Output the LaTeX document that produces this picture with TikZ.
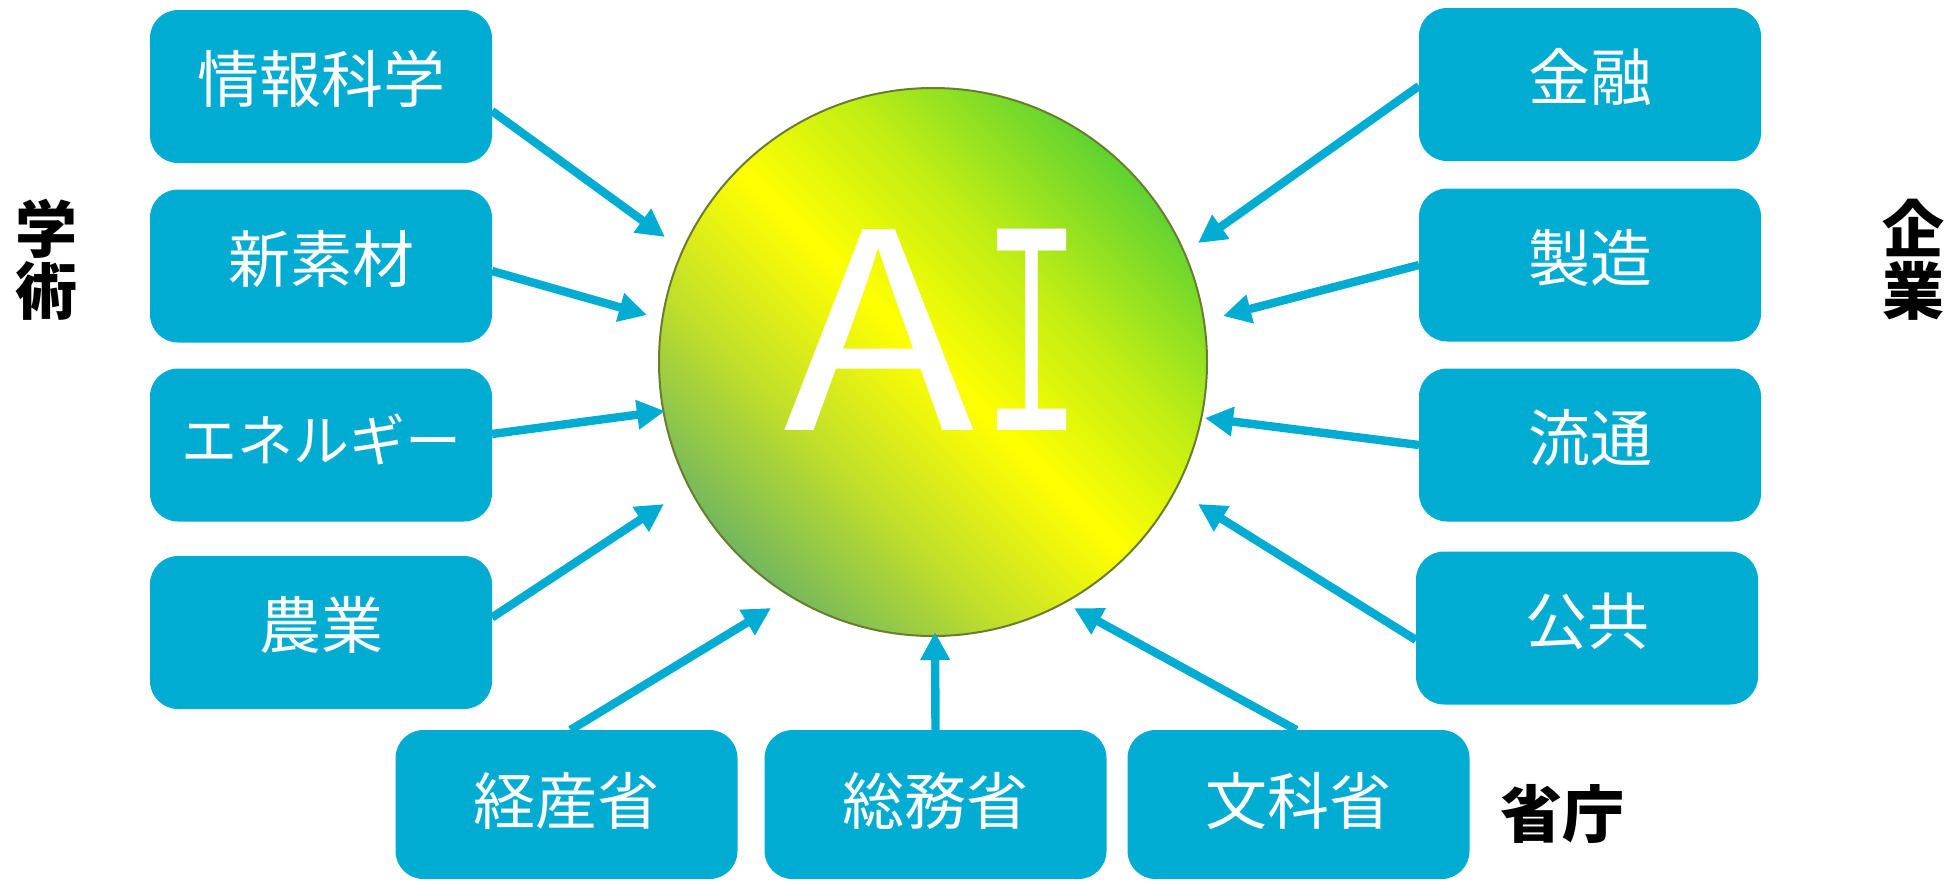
\documentclass[tikz,border=0pt]{standalone}
\usepackage{fontspec}
\setmainfont{Noto Sans CJK JP}
\usetikzlibrary{arrows.meta,calc}
\definecolor{boxblue}{RGB}{0,172,210}
\definecolor{aigreen}{RGB}{95,210,50}
\definecolor{aiolive}{RGB}{115,183,95}
\definecolor{aiyellow}{RGB}{255,255,0}
\definecolor{airim}{RGB}{105,125,45}
\colorlet{aimixa}{aiyellow!55!aiolive}
\colorlet{aimixb}{aiyellow!60!aigreen}
\pgfdeclarehorizontalshading{aishade}{100bp}{color(0bp)=(aiolive); color(25bp)=(aiolive); color(37bp)=(aimixa); color(50bp)=(aiyellow); color(62bp)=(aimixb); color(75bp)=(aigreen); color(100bp)=(aigreen)}
\begin{document}
\begin{tikzpicture}[x=0.5pt,y=-0.5pt,
  box/.style={fill=boxblue, rounded corners=14pt, minimum width=171pt, minimum height=76.5pt,
    inner sep=0pt, outer sep=0pt, text=white, font=\fontsize{31}{31}\selectfont,
    text height=27pt, text depth=11pt},
  bbox/.style={box, minimum height=74.5pt, text depth=7pt},
  arr/.style={draw=boxblue, line width=4.2pt, -{Triangle[length=14pt,width=14pt]}},
  side/.style={font=\fontsize{31}{31}\bfseries\selectfont, align=center, inner sep=0pt}]
\useasboundingbox (0,0) rectangle (1960,880);

% central circle
\node[circle, minimum size=274pt, inner sep=0pt, draw=airim, line width=1pt,
  shading=aishade, shading angle=45, text=white,
  font=\fontsize{137}{137}\selectfont, text height=100pt, text depth=32pt] (ai) at (933,362)
  {\kern9pt\scalebox{1.15}[1]{A}\kern-5.5pt\scalebox{0.5}[1]{Ｉ}};

% boxes
\node[box] (l1) at (321,86.5) {情報科学};
\node[box] (l2) at (321,266) {新素材};
\node[box, font=\fontsize{28}{28}\selectfont] (l3) at (321,445) {エネルギー};
\node[box] (l4) at (321,632.5) {農業};
\node[box] (r1) at (1590,84.5) {金融};
\node[box] (r2) at (1590,265) {製造};
\node[box] (r3) at (1590,445) {流通};
\node[box] (r4) at (1587,628) {公共};
\node[bbox] (g1) at (566.5,804.5) {経産省};
\node[bbox] (g2) at (935.5,804.5) {総務省};
\node[bbox] (g3) at (1298.5,804.5) {文科省};

% side labels
\node[side] (gak) at (47,260) {学\\術};
\node[side] (kig) at (1913,260) {企\\業};
\node[side] (sho) at (1562,814) {省庁};

% arrow tips
\coordinate (t1) at (665,237);
\coordinate (t2) at (647,315);
\coordinate (t3) at (665,411);
\coordinate (t4) at (664,504);
\coordinate (u1) at (1198,243);
\coordinate (u2) at (1223,316);
\coordinate (u3) at (1205,418);
\coordinate (u4) at (1198,504);
\coordinate (v1) at (771,608);
\coordinate (v2) at (935,632);
\coordinate (v3) at (1074,608);

\draw[arr] ($(l1.east)+(0,24.5)$) -- (t1);
\draw[arr] ($(l2.east)+(0,5)$) -- (t2);
\draw[arr] ($(l3.east)+(0,-11)$) -- (t3);
\draw[arr] ($(l4.east)+(0,-15)$) -- (t4);
\draw[arr] ($(r1.west)+(0,1.5)$) -- (u1);
\draw[arr] (r2.west) -- (u2);
\draw[arr] (r3.west) -- (u3);
\draw[arr] ($(r4.west)+(0,12)$) -- (u4);
\draw[arr] ($(g1.north)+(4,0)$) -- (v1);
\draw[arr] (g2.north) -- (v2);
\draw[arr] ($(g3.north)+(-2,0)$) -- (v3);
\end{tikzpicture}
\end{document}
